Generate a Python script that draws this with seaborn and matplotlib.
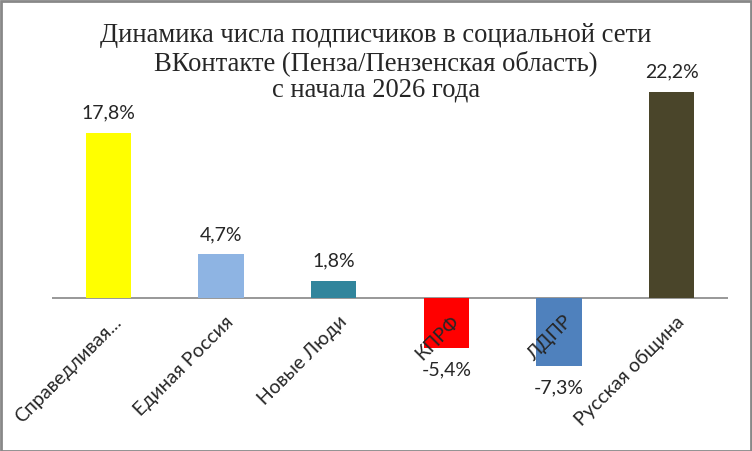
import matplotlib
matplotlib.use("Agg")
import matplotlib.pyplot as plt
import matplotlib.transforms as mtransforms
from matplotlib.patches import Rectangle
import seaborn as sns
import pandas as pd

parties = ["Справедливая...", "Единая Россия", "Новые Люди", "КПРФ", "ЛДПР", "Русская община"]
growth = [17.8, 4.7, 1.8, -5.4, -7.3, 22.2]
colors = ["#FFFF00", "#8EB4E3", "#31859C", "#FF0000", "#4F81BD", "#4A452A"]
title_lines = ["Динамика числа подписчиков в социальной сети",
               "ВКонтакте (Пенза/Пензенская область)",
               "с начала 2026 года"]

df = pd.DataFrame({"party": parties, "growth": growth})

sns.set_style("white")
plt.rcParams["font.family"] = ["Lato", "DejaVu Sans"]

W, H = 752, 452
fig = plt.figure(figsize=(W / 100, H / 100), dpi=100)

# axes placed in pixel terms: zero line at y=299, 9.28 px per percent point
ymin, ymax = -10, 24
ppu = 9.28
top_px = 299 - ymax * ppu
bot_px = 299 - ymin * ppu
ax = fig.add_axes([52 / W, (H - bot_px) / H, 676 / W, (bot_px - top_px) / H])

sns.barplot(data=df, x="party", y="growth", hue="party", palette=colors,
            width=0.4, saturation=1, legend=False, linewidth=0, ax=ax)
ax.set_ylim(ymin, ymax)
ax.set_xlim(-0.5, len(parties) - 0.5)
ax.axhline(0, color="#868686", lw=1.2, zorder=0.5)
ax.set_axisbelow(False)

for c, v in zip(ax.containers, growth):
    ax.bar_label(c, labels=[f"{v:.1f}%".replace(".", ",")], padding=9, fontsize=14)

for s in ax.spines.values():
    s.set_visible(False)
ax.set_yticks([])
ax.set_xlabel("")
ax.set_ylabel("")

# category labels sit just under the zero line, rotated like Excel
ax.set_xticks(range(len(parties)))
ax.set_xticklabels(parties, rotation=45, ha="right", va="center",
                   rotation_mode="anchor", fontsize=14)
ax.tick_params(axis="x", length=0)
offset = mtransforms.ScaledTranslation(0.10, 0, fig.dpi_scale_trans)
for lab in ax.get_xticklabels():
    lab.set_transform(ax.get_xaxis_transform() + offset)
    lab.set_y(1 - (299 + 20 - top_px) / (bot_px - top_px))
    lab.set_zorder(5)

for line, base in zip(title_lines, [42, 70, 97]):
    fig.text(0.5, 1 - base / H, line, ha="center", va="baseline",
             fontsize=19.2, family="Liberation Serif")

fig.patches.append(Rectangle((0.5 / W, 0.5 / H), 1 - 2 / W, 1 - 2 / H,
                             transform=fig.transFigure, fill=False,
                             edgecolor="#888888", lw=2))

fig.savefig("out.png", dpi=100)
